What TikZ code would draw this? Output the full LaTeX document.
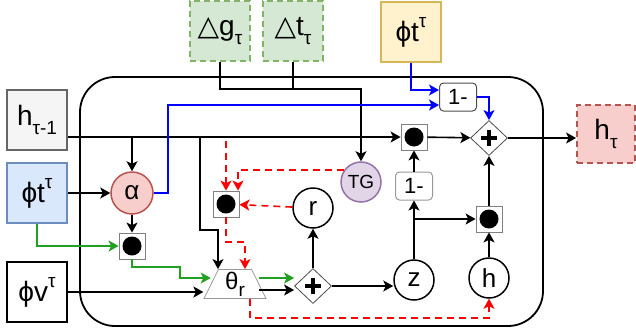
\documentclass[tikz,border=0pt]{standalone}
\usepackage{fontspec}
\setmainfont{Liberation Sans}
\newfontfamily\trifont{DejaVu Sans}
\usetikzlibrary{shapes.geometric,arrows.meta}

\definecolor{grnfill}{HTML}{D5E8D4}
\definecolor{grnline}{HTML}{82B366}
\definecolor{yelfill}{HTML}{FFF2CC}
\definecolor{yelline}{HTML}{D6B656}
\definecolor{blufill}{HTML}{DAE8FC}
\definecolor{bluline}{HTML}{6C8EBF}
\definecolor{redfill}{HTML}{F8CECC}
\definecolor{redline}{HTML}{B85450}
\definecolor{grayfill}{HTML}{F5F5F5}
\definecolor{grayline}{HTML}{666666}
\definecolor{purfill}{HTML}{E1D5E7}
\definecolor{purline}{HTML}{9673A6}
\definecolor{flowgreen}{HTML}{22A022}

\newcommand{\subtx}[1]{\raisebox{-0.3em}{\fontsize{19}{19}\selectfont #1}}
\newcommand{\suptx}[1]{\raisebox{0.5em}{\fontsize{19}{19}\selectfont #1}}

\begin{document}
\begin{tikzpicture}[
  x=1pt, y=-1pt,
  font=\fontsize{26}{30}\selectfont,
  tip/.style={-{Stealth[length=10pt,width=11pt,inset=2.5pt]}},
  arr/.style={line width=1.6pt, tip},
  barr/.style={arr, draw=blue},
  garr/.style={arr, draw=flowgreen},
  rarr/.style={arr, draw=red, dash pattern=on 7pt off 5pt},
  inbox/.style={
    draw,
    line width=1.8pt,
    minimum width=60pt,
    minimum height=60pt,
    inner sep=0pt,
    font=\fontsize{28}{32}\selectfont
  },
  dashbox/.style={dash pattern=on 6pt off 4pt},
  circ/.style={circle, draw, line width=1.5pt, minimum size=40pt, inner sep=0pt},
  dotbox/.style={
    draw=black!50,
    line width=0.8pt,
    minimum size=26pt,
    inner sep=0pt,
    path picture={\fill[black] (path picture bounding box.center) circle (9.5pt);}
  },
  plusbox/.style={
    diamond,
    draw=black!70,
    line width=0.8pt,
    minimum width=37pt,
    minimum height=35pt,
    inner sep=0pt,
    path picture={
      \draw[draw=black, line width=3.8pt]
        ([xshift=-8pt]path picture bounding box.center) -- ([xshift=8pt]path picture bounding box.center)
        ([yshift=-8pt]path picture bounding box.center) -- ([yshift=8pt]path picture bounding box.center);
    }
  },
  onebox/.style={
    draw=black!70,
    line width=1pt,
    rounded corners=4pt,
    minimum width=37pt,
    minimum height=28pt,
    inner sep=0pt,
    font=\fontsize{22}{24}\selectfont
  },
  gate/.style={
    trapezium,
    trapezium left angle=71,
    trapezium right angle=71,
    trapezium stretches=true,
    minimum width=62pt,
    minimum height=29pt,
    inner sep=0pt,
    draw=black!40,
    line width=0.8pt,
    font=\fontsize{24}{26}\selectfont
  }
]
\useasboundingbox (0,0) rectangle (636,335);

% cell frame
\draw[line width=1.8pt, rounded corners=35pt] (80,77) rectangle (543,326);

% inputs and output
\node[inbox, draw=grayline, fill=grayfill] (hprev) at (37,120) {h\subtx{τ-1}};
\node[inbox, draw=bluline, fill=blufill] (phit) at (37,193) {ϕt\suptx{τ}};
\node[inbox] (phiv) at (37,292) {ϕv\suptx{τ}};
\node[inbox, dashbox, draw=grnline, fill=grnfill] (dg) at (220,31) {{\trifont △}g\subtx{τ}};
\node[inbox, dashbox, draw=grnline, fill=grnfill] (dt) at (293,31) {{\trifont △}t\subtx{τ}};
\node[inbox, draw=yelline, fill=yelfill] (phiy) at (411,32) {ϕt\suptx{τ}};
\node[inbox, dashbox, draw=redline, fill=redfill, minimum width=58pt, minimum height=58pt] (hout) at (606,134) {h\subtx{τ}};

% operations
\node[circ, minimum size=42pt, draw=redline, fill=redfill] (alpha) at (132,193) {α};
\node[circ, draw=purline, fill=purfill, font=\fontsize{19}{21}\selectfont] (tg) at (361,182) {TG};
\node[circ] (r) at (313,208) {r};
\node[circ] (z) at (414,280) {z};
\node[circ] (h) at (489,278) {h};
\node[dotbox] (da) at (132,246) {};
\node[dotbox] (dr) at (226,204) {};
\node[dotbox] (dz) at (489,219) {};
\node[dotbox] (du) at (414,137) {};
\node[plusbox] (pu) at (489,138) {};
\node[plusbox] (pl) at (313,286) {};
\node[onebox] (ou) at (458,97) {1-};
\node[onebox, draw=black!40] (ol) at (414,186) {1-};
\node[gate] (th) at (235,284) {θ\subtx{r}};

\coordinate (thg) at ([yshift=6pt]th.west);
\coordinate (tho1) at ([yshift=6pt]th.east);
\coordinate (tho2) at ([yshift=-6pt]th.east);
\coordinate (ouin1) at ([yshift=7pt]ou.west);
\coordinate (ouin2) at ([yshift=-8pt]ou.west);
\coordinate (tgout) at (344,170);

% hidden state path
\draw[arr] (hprev.east |- du) -- (du);
\draw[arr] (du) -- (pu);
\draw[arr] (pu) -- (pu -| hout.west);
\draw[arr] (alpha |- du) -- (alpha);
\draw[arr] (du -| 200,0) |- (218,230) -- (th.north -| 218,0);

% time gate
\draw[arr] (dg.south) -- ++(0,27) -| (tg.north);
\draw[line width=1.6pt] (dt.south) -- (dt.south |- 0,89);

% attention
\draw[arr] (phit) -- (alpha);
\draw[arr] (alpha) -- (da);
\draw[garr] (phit.south) |- (da);
\draw[garr] (da) |- (180,267) |- (thg);
\draw[arr] (phiv) -- (phiv -| th.bottom left corner);
\draw[barr] (alpha) -| (168,105) -- (ouin2);
\draw[barr] (phiy.south) |- (ouin1);
\draw[barr] (ou.east) -| (pu.north);

% update
\draw[garr] (tho1) -- (tho1 -| pl.west);
\draw[arr] (tho2) -- (tho2 -| pl.west);
\draw[arr] (pl) -- (r);
\draw[arr] (pl.east) -- (pl.east -| z.west);
\draw[arr] (z) -- (ol);
\draw[arr] (z |- dz) -- (dz);
\draw[arr] (ol) -- (du);
\draw[arr] (h) -- (dz);
\draw[arr] (dz) -- (pu);

% reset flow
\draw[rarr] (tgout) -| ([xshift=12pt]dr.north);
\draw[rarr, shorten <=4pt] (dr |- du) -- (dr);
\draw[rarr] (r) -- (dr);
\draw[rarr] (dr) |- (245,242) -- (th.north -| 245,0);
\draw[rarr] (th.south -| 250,0) -- (250,318) -| (h);
\end{tikzpicture}
\end{document}
